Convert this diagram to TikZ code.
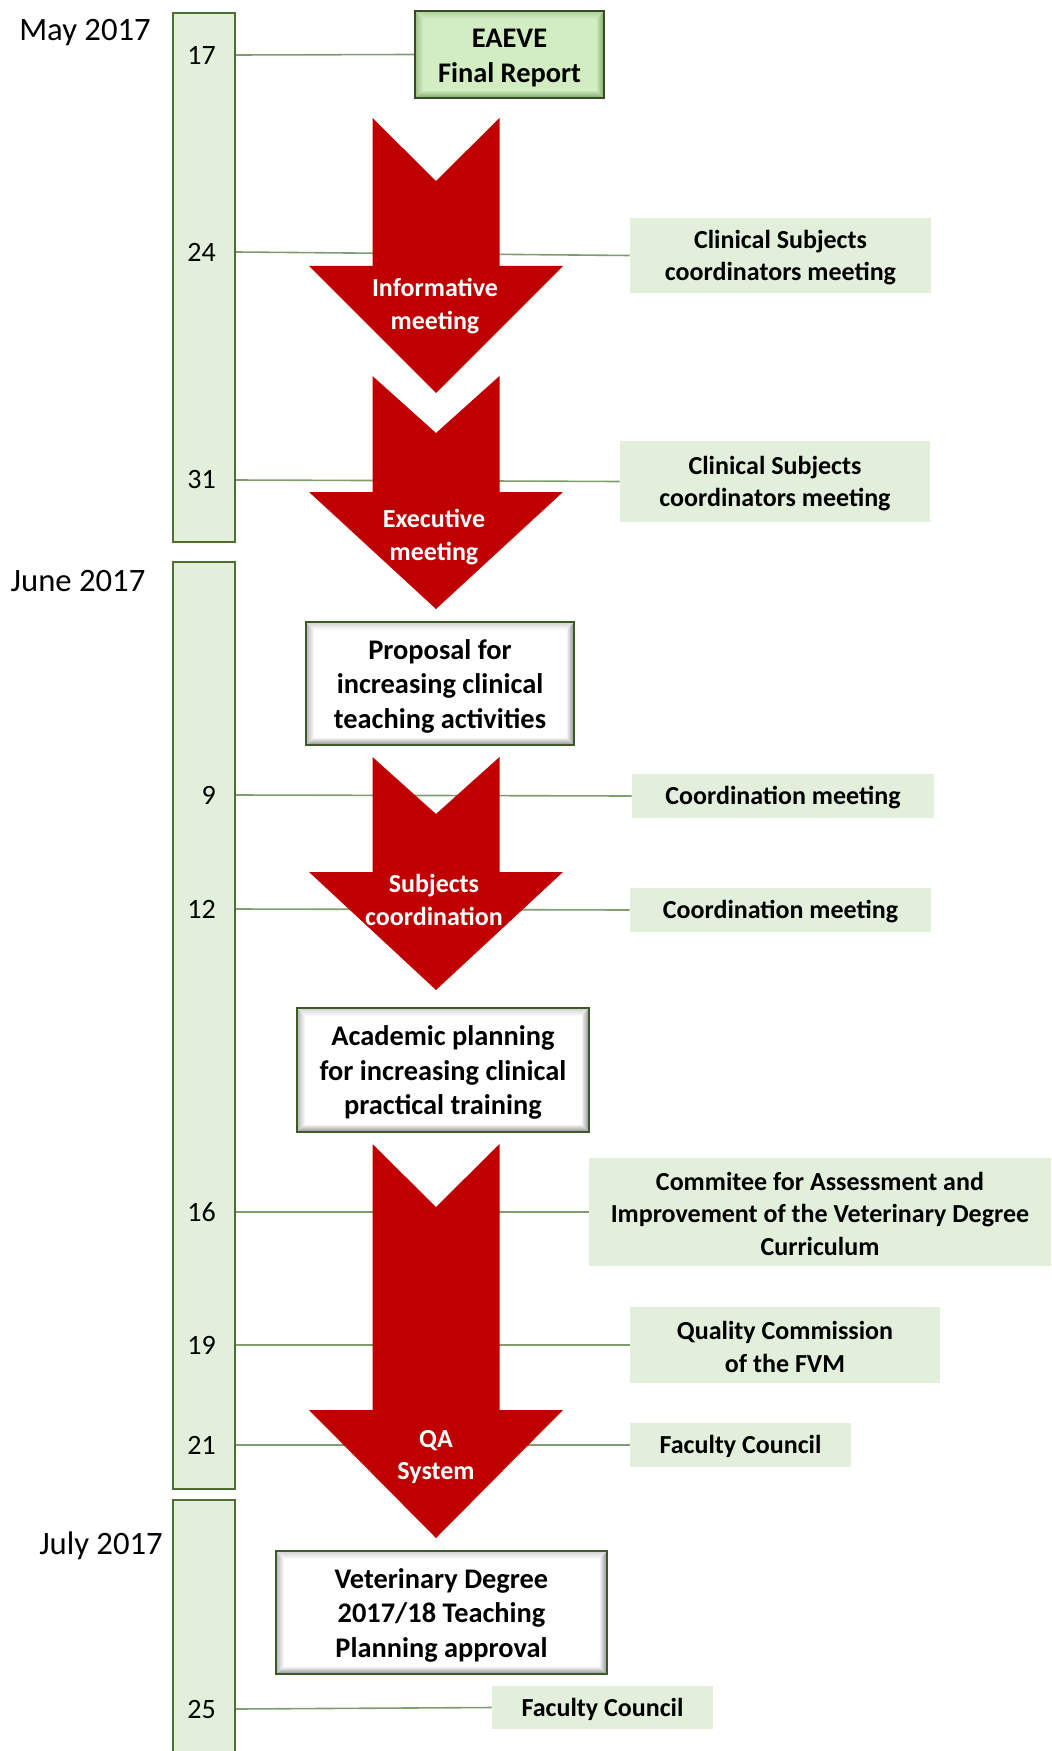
\documentclass[tikz,border=0pt]{standalone}
\usepackage{fontspec}
\setmainfont{Carlito}
\usetikzlibrary{calc}
\pgfdeclarelayer{background}
\pgfsetlayers{background,main}

\definecolor{barfill}{RGB}{226,239,218}
\definecolor{barline}{RGB}{80,110,50}
\definecolor{linkgreen}{RGB}{128,158,108}
\definecolor{arrowred}{RGB}{192,0,0}
\definecolor{notegreen}{RGB}{226,239,218}
\definecolor{frameline}{RGB}{60,90,40}
\definecolor{bevdark}{RGB}{140,140,140}
\definecolor{reportfill}{RGB}{210,237,194}
\definecolor{reportedge}{RGB}{125,165,98}
\definecolor{reportline}{RGB}{55,75,40}

\tikzset{
  px/.style={x=0.75pt,y=-0.75pt},
  bw/.style={minimum width=#1*0.75pt},
  bh/.style={minimum height=#1*0.75pt},
  boxfont/.style={font=\fontsize{19.5}{24.2}\selectfont\bfseries},
  stagefont/.style={font=\fontsize{21.3}{26}\selectfont\bfseries},
  monthlabel/.style={font=\fontsize{24.5}{28}\selectfont, inner sep=0pt},
  daynum/.style={font=\fontsize{21}{24}\selectfont, anchor=east, inner sep=0pt},
  monthbar/.style={draw=barline, fill=barfill, line width=1.5pt, bw=62, inner sep=0pt},
  bevel/.style 2 args={path picture={
    \path (path picture bounding box.south west) coordinate (bsw)
          (path picture bounding box.north east) coordinate (bne)
          (path picture bounding box.north west) coordinate (bnw)
          (path picture bounding box.south east) coordinate (bse);
    \shade[top color=#1, bottom color=#2] (bsw) -- (bse) -- ([shift={(-6pt,6pt)}]bse) -- ([shift={(6pt,6pt)}]bsw) -- cycle;
    \shade[left color=#1, right color=#2] (bse) -- (bne) -- ([shift={(-6pt,-6pt)}]bne) -- ([shift={(-6pt,6pt)}]bse) -- cycle;
    \shade[left color=#2!65!#1, right color=#1] (bsw) -- (bnw) -- ([shift={(6pt,-6pt)}]bnw) -- ([shift={(6pt,6pt)}]bsw) -- cycle;
    \shade[top color=#2!40!#1, bottom color=#1] (bnw) -- (bne) -- ([shift={(-6pt,-6pt)}]bne) -- ([shift={(6pt,-6pt)}]bnw) -- cycle;
  }},
  % box texts sit a touch below the geometric centre
  stagetext/.style={label={[stagefont, align=center, inner sep=0pt, yshift=-2pt]center:#1}},
  notetext/.style={label={[boxfont, align=center, inner sep=0pt, yshift=-1.4pt]center:#1}},
  notebox/.style={fill=notegreen, inner sep=0pt},
  stagebox/.style={fill=white, draw=frameline, line width=1.4pt, inner sep=0pt, bevel={white}{bevdark}},
  reportbox/.style={fill=reportfill, draw=reportline, line width=1.4pt, inner sep=0pt, bevel={reportfill}{reportedge}},
  dayline/.style={draw=linkgreen, line width=1.2pt},
  arrowlabel/.style={boxfont, text=white, align=center, inner sep=0pt},
}

% notched down arrow: centre x, top, notch point, head base, tip
\newcommand\downflow[5]{%
  \fill[arrowred] (#1-63.5,#2) -- (#1,#3) -- (#1+63.5,#2) -- (#1+63.5,#4)
    -- (#1+127,#4) -- (#1,#5) -- (#1-127,#4) -- (#1-63.5,#4) -- cycle;}

\begin{document}
\begin{tikzpicture}[px]
\useasboundingbox (0,0) rectangle (1051,1751);

% month bars and labels
\node[monthbar, bh=529] (may) at (204,277.5) {};
\node[monthbar, bh=927] (june) at (204,1025.5) {};
\node[monthbar, bh=262] (july) at (204,1631) {};
\node[monthlabel] (maylab) at (85,33) {May 2017};
\node[monthlabel] (junelab) at (78,581) {June 2017};
\node[monthlabel] (julylab) at (101,1546) {July 2017};

% day numbers
\node[daynum] (n17) at (216,55) {17};
\node[daynum] (n24) at (216,252) {24};
\node[daynum] (n31) at (216,480) {31};
\node[daynum] (n9)  at (216,795) {9};
\node[daynum] (n12) at (216,909) {12};
\node[daynum] (n16) at (216,1212) {16};
\node[daynum] (n19) at (216,1345) {19};
\node[daynum] (n21) at (216,1445) {21};
\node[daynum] (n25) at (216,1709) {25};

% process stages
\node[reportbox, bw=189, bh=87, label={[stagefont, align=center, inner sep=0pt, yshift=-2.4pt]center:EAEVE\\Final Report}] (eaeve) at (509.5,54.5) {};
\node[stagebox, bw=268, bh=123, stagetext={Proposal for\\increasing clinical\\teaching activities}] (prop) at (440,683.5) {};
\node[stagebox, bw=292, bh=124, stagetext={Academic planning\\for increasing clinical\\practical training}] (acad) at (443,1070) {};
\node[stagebox, bw=331, bh=123, stagetext={Veterinary Degree\\2017/18 Teaching\\Planning approval}] (vet) at (441.5,1612.5) {};

% meetings and bodies
\node[notebox, bw=301, bh=75, notetext={Clinical Subjects\\coordinators meeting}] (cs1) at (780.5,255.5) {};
\node[notebox, bw=310, bh=81, notetext={Clinical Subjects\\coordinators meeting}] (cs2) at (775,481.5) {};
\node[notebox, bw=302, bh=44, notetext={Coordination meeting}] (coord1) at (783,796) {};
\node[notebox, bw=301, bh=44, notetext={Coordination meeting}] (coord2) at (780.5,910) {};
\node[notebox, bw=462, bh=108, notetext={Commitee for Assessment and\\Improvement of the Veterinary Degree\\Curriculum}] (comm) at (820,1212) {};
\node[notebox, bw=310, bh=76, notetext={Quality Commission\\of the FVM}] (qual) at (785,1345) {};
\node[notebox, bw=221, bh=44, notetext={Faculty Council}] (fac1) at (740.5,1445) {};
\node[notebox, bw=221, bh=43, notetext={Faculty Council}] (fac2) at (602.5,1707.5) {};

% big red flow arrows
\downflow{436}{118}{181}{266}{393}
\downflow{436}{376}{433}{492}{609}
\downflow{436}{757}{814}{872}{990}
\downflow{436}{1144}{1207}{1410}{1538}
\node[arrowlabel] (lab1) at (435,306) {Informative\\meeting};
\node[arrowlabel] (lab2) at (434,537) {Executive\\meeting};
\node[arrowlabel] (lab3) at (434,900) {Subjects\\coordination};
\node[arrowlabel] (lab4) at (436,1457) {QA\\System};

% date lines, behind the arrows
\begin{pgfonlayer}{background}
\draw[dayline] (may.east |- n17) -- (eaeve.west);
\draw[dayline] (may.east |- n24) -- (cs1.west);
\draw[dayline] (may.east |- n31) -- (cs2.west);
\draw[dayline] (june.east |- n9) -- (coord1.west);
\draw[dayline] (june.east |- n12) -- (coord2.west);
\draw[dayline] (june.east |- n16) -- (comm.west);
\draw[dayline] (june.east |- n19) -- (qual.west);
\draw[dayline] (june.east |- n21) -- (fac1.west);
\draw[dayline] (july.east |- n25) -- (fac2.west);
\end{pgfonlayer}
\end{tikzpicture}
\end{document}
